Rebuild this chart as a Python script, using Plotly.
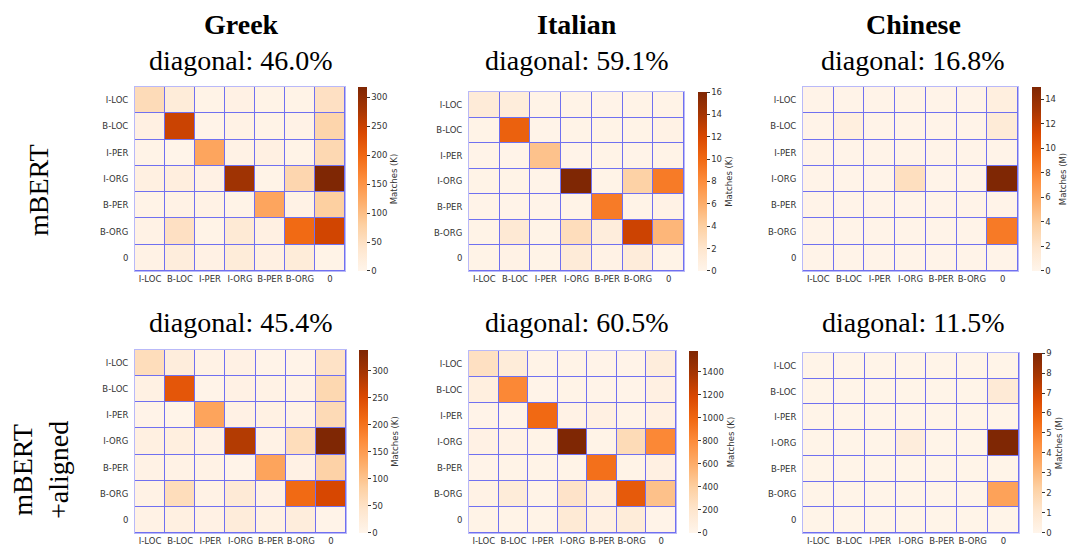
import plotly.graph_objects as go

W, H = 1075, 550

labels = ["I-LOC", "B-LOC", "I-PER", "I-ORG", "B-PER", "B-ORG", "0"]

languages = ["Greek", "Italian", "Chinese"]
row_names = ["mBERT", "mBERT<br>+aligned"]

diag_mbert = ["46.0%", "59.1%", "16.8%"]
diag_aligned = ["45.4%", "60.5%", "11.5%"]

greek_mbert = [
    [60, 25, 6, 10, 6, 5, 50],
    [12, 250, 4, 8, 6, 7, 70],
    [5, 3, 130, 8, 12, 6, 65],
    [14, 18, 10, 285, 6, 68, 318],
    [6, 8, 8, 5, 130, 8, 80],
    [8, 50, 6, 30, 12, 198, 245],
    [8, 20, 10, 25, 12, 25, 5],
]
italian_mbert = [
    [1.3, 1.1, 0.3, 0.3, 0.2, 0.3, 0.3],
    [0.3, 10.5, 0.2, 0.3, 0.3, 0.3, 0.4],
    [0.2, 0.2, 4.8, 0.2, 0.3, 0.2, 0.3],
    [0.3, 0.3, 0.2, 16.0, 0.3, 3.8, 9.0],
    [0.2, 0.2, 0.2, 0.3, 9.0, 0.3, 0.4],
    [0.3, 1.6, 0.3, 2.8, 1.0, 12.5, 5.5],
    [0.3, 0.4, 0.3, 1.3, 0.4, 1.2, 0.3],
]
chinese_mbert = [
    [0.2, 0.2, 0.2, 0.2, 0.2, 0.2, 0.8],
    [0.2, 0.8, 0.2, 0.2, 0.2, 0.2, 1.3],
    [0.2, 0.2, 0.2, 0.2, 0.2, 0.2, 0.2],
    [0.2, 0.2, 0.2, 2.5, 0.2, 0.2, 15.0],
    [0.2, 0.2, 0.2, 0.2, 0.2, 0.2, 0.2],
    [0.2, 0.2, 0.2, 0.2, 0.2, 0.2, 8.5],
    [0.2, 0.2, 0.2, 0.2, 0.2, 0.2, 0.2],
]
greek_aligned = [
    [60, 22, 8, 10, 5, 5, 50],
    [12, 235, 5, 10, 8, 8, 70],
    [5, 3, 140, 10, 12, 8, 65],
    [15, 18, 10, 285, 8, 60, 338],
    [8, 8, 8, 5, 140, 10, 80],
    [8, 60, 8, 30, 10, 210, 255],
    [8, 15, 10, 25, 12, 22, 5],
]
italian_aligned = [
    [250, 120, 30, 30, 20, 20, 100],
    [80, 820, 20, 30, 20, 20, 60],
    [20, 20, 990, 40, 60, 30, 60],
    [50, 40, 30, 1580, 30, 300, 820],
    [20, 30, 30, 30, 950, 30, 60],
    [40, 120, 30, 220, 80, 1080, 480],
    [30, 30, 30, 150, 70, 120, 20],
]
chinese_aligned = [
    [0.1, 0.1, 0.1, 0.1, 0.1, 0.1, 0.1],
    [0.1, 0.1, 0.1, 0.1, 0.1, 0.1, 0.8],
    [0.1, 0.1, 0.1, 0.1, 0.1, 0.1, 0.1],
    [0.1, 0.1, 0.1, 0.6, 0.1, 0.1, 9.0],
    [0.1, 0.1, 0.1, 0.1, 0.1, 0.1, 0.1],
    [0.1, 0.1, 0.1, 0.1, 0.1, 0.1, 3.8],
    [0.1, 0.1, 0.1, 0.1, 0.1, 0.1, 0.1],
]

units = [["K", "K", "M"], ["K", "K", "M"]]
cbar_ticks = [
    [[0, 50, 100, 150, 200, 250, 300], [0, 2, 4, 6, 8, 10, 12, 14, 16], [0, 2, 4, 6, 8, 10, 12, 14]],
    [[0, 50, 100, 150, 200, 250, 300], [0, 200, 400, 600, 800, 1000, 1200, 1400], [0, 1, 2, 3, 4, 5, 6, 7, 8, 9]],
]

panels = [
    [greek_mbert, italian_mbert, chinese_mbert],
    [greek_aligned, italian_aligned, chinese_aligned],
]

# layout geometry in pixels: (left, right, top, bottom) of heatmap, colorbar left
geom = [
    [((135, 345, 87, 271), 358), ((469, 684, 92, 271), 698), ((803, 1018, 87, 271), 1032)],
    [((135, 346, 350, 533), 359), ((469, 676, 351, 533), 689), ((803, 1019, 353, 533), 1033)],
]

def px(x):
    return x / W

def py(y):
    return 1 - y / H

GRID = "rgb(112,112,240)"
BORDER = "rgb(185,185,248)"
TICKFONT = dict(family="DejaVu Sans", size=8.5, color="#333333")
SERIF = "Liberation Serif, Times New Roman, serif"

fig = go.Figure()
layout = {}
k = 0
for r in range(2):
    for c in range(3):
        k += 1
        (l, rt, t, b), cbx = geom[r][c]
        xa = "x" if k == 1 else f"x{k}"
        ya = "y" if k == 1 else f"y{k}"
        zmax = max(max(row) for row in panels[r][c])
        fig.add_trace(go.Heatmap(
            z=panels[r][c], x=labels, y=labels,
            xaxis=xa, yaxis=ya,
            colorscale="Oranges", zmin=-zmax * 1e-4, zmax=zmax,
            xgap=1, ygap=1, hoverinfo="skip",
            colorbar=dict(
                x=px(cbx), xanchor="left", xpad=0,
                y=py((t + b) / 2), yanchor="middle", ypad=0,
                len=b - t, lenmode="pixels",
                thickness=9, outlinewidth=0,
                ticks="outside", ticklen=3, tickwidth=1, tickcolor="#333333",
                tickfont=TICKFONT, ticklabeloverflow="allow",
                tickmode="array", tickvals=cbar_ticks[r][c],
                ticktext=[str(v) for v in cbar_ticks[r][c]],
                title=dict(text=f"Matches ({units[r][c]})", side="right",
                           font=dict(family="DejaVu Sans", size=8.5, color="#333333")),
            ),
        ))
        axcommon = dict(showline=True, linecolor=BORDER, linewidth=1, mirror=True,
                        showgrid=False, zeroline=False, ticks="",
                        tickfont=TICKFONT, type="category")
        layout["xaxis" if k == 1 else f"xaxis{k}"] = dict(
            domain=[px(l), px(rt)], anchor=ya, **axcommon)
        layout["yaxis" if k == 1 else f"yaxis{k}"] = dict(
            domain=[py(b), py(t)], anchor=xa, autorange="reversed", ticklabelstandoff=4, **axcommon)

annotations = []
title_x = [241, 577, 913]
for c in range(3):
    annotations.append(dict(text=f"<b>{languages[c]}</b>", x=px(title_x[c]), y=py(25),
                            xref="paper", yref="paper", showarrow=False,
                            xanchor="center", yanchor="middle",
                            font=dict(family=SERIF, size=28, color="black")))
    annotations.append(dict(text=f"diagonal: {diag_mbert[c]}", x=px(title_x[c]), y=py(60),
                            xref="paper", yref="paper", showarrow=False,
                            xanchor="center", yanchor="middle",
                            font=dict(family=SERIF, size=28, color="black")))
    annotations.append(dict(text=f"diagonal: {diag_aligned[c]}", x=px(title_x[c]), y=py(322),
                            xref="paper", yref="paper", showarrow=False,
                            xanchor="center", yanchor="middle",
                            font=dict(family=SERIF, size=28, color="black")))

annotations.append(dict(text=row_names[0], x=px(38), y=py(190), xref="paper", yref="paper",
                        showarrow=False, textangle=-90, xanchor="center", yanchor="middle",
                        font=dict(family=SERIF, size=28, color="black")))
annotations.append(dict(text=row_names[1], x=px(40), y=py(470), xref="paper", yref="paper",
                        showarrow=False, textangle=-90, xanchor="center", yanchor="middle",
                        font=dict(family=SERIF, size=28, color="black")))

fig.update_layout(
    width=W, height=H,
    margin=dict(l=0, r=0, t=0, b=0),
    paper_bgcolor="white",
    plot_bgcolor=GRID,
    showlegend=False,
    annotations=annotations,
    **layout,
)

fig.write_html("out.html", config={"displayModeBar": False},
               post_script="document.body.style.margin='0';document.body.style.overflow='hidden';")
